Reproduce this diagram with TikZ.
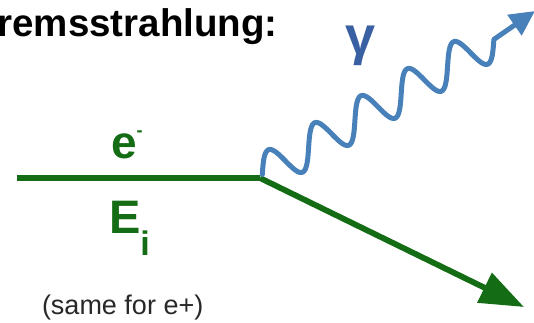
\documentclass[tikz,border=0pt]{standalone}
\usepackage{fontspec}
\setmainfont{Liberation Sans}
\usetikzlibrary{arrows.meta}
\definecolor{egreen}{RGB}{20,108,20}
\definecolor{wblue}{RGB}{72,128,186}
\definecolor{gblue}{RGB}{56,96,162}
\definecolor{ngray}{RGB}{40,40,40}
\tikzset{
  eline/.style={egreen, line width=5.8pt},
  photon/.style={wblue, line width=5pt, line cap=round, line join=round},
  photonshaft/.style={wblue, line width=5pt},
  lbl/.style={inner sep=0pt, outer sep=0pt}
}
\begin{document}
\begin{tikzpicture}[x=1pt,y=-1pt]
\useasboundingbox (0,0) rectangle (534,323);
% title
\node[lbl, anchor=base west, font=\bfseries\fontsize{38.5}{38.5}\selectfont] (title) at (-2.5,37) {remsstrahlung:};
% electron line
\coordinate (start) at (17,178);
\coordinate (v) at (260,178);
\coordinate (tip) at (524,307);
\draw[eline] (start) -- (v);
\draw[eline, -{Triangle[length=44pt,width=32pt]}] (v) -- (tip);
% photon
\coordinate (ws) at (262.3,174.5);
\coordinate (we) at (493.9,39.4);
\coordinate (gtip) at (535,11);
\draw[photon] (ws) -- plot[domain=0:268, samples=400]
  ({262.3 + 0.864*\x - 5.89*sin(6.7164*\x)},
   {174.5 - 0.504*\x - 17.75*sin(6.7164*\x)}) -- (we);
\draw[photonshaft, -{Triangle[length=25pt,width=24pt]}] (we) -- (gtip);
% labels
\node[lbl, anchor=base, text=gblue, font=\bfseries\fontsize{54}{54}\selectfont] (gamma) at (361,55) {γ};
\node[lbl, anchor=base west, text=egreen, font=\bfseries\fontsize{46}{46}\selectfont] (eminus) at (111,158) {e\raisebox{22pt}{\fontsize{18}{18}\selectfont -}};
\node[lbl, anchor=base west, text=egreen, font=\bfseries\fontsize{47}{47}\selectfont] (Ei) at (109,233) {E\raisebox{-22pt}{\fontsize{34}{34}\selectfont i}};
\node[lbl, anchor=base west, text=ngray, font=\fontsize{27}{27}\selectfont] (note) at (42,314) {(same for e+)};
\end{tikzpicture}
\end{document}
